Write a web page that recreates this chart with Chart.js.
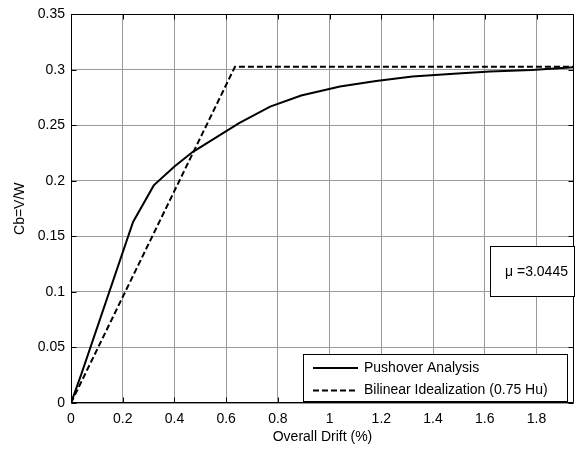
<!DOCTYPE html>
<html><head><meta charset="utf-8">
<script src="https://cdn.jsdelivr.net/npm/chart.js@4"></script>
<style>html,body{margin:0;padding:0;background:#fff}canvas{display:block}</style>
</head><body>
<canvas id="c" width="579" height="451"></canvas>
<script>
// ---- data ----
const pushoverDrift = [0, 0.04, 0.24, 0.32, 0.40, 0.47, 0.56, 0.65, 0.77, 0.89, 1.04, 1.18, 1.32, 1.48, 1.62, 1.78, 1.945];
const pushoverCb    = [0, 0.026, 0.163, 0.196, 0.213, 0.226, 0.239, 0.252, 0.267, 0.277, 0.285, 0.290, 0.294, 0.2965, 0.2985, 0.300, 0.3025];
const bilinearDrift = [0, 0.634, 1.945];
const bilinearCb    = [0, 0.3028, 0.3028];
const xTicks = [0, 0.2, 0.4, 0.6, 0.8, 1.0, 1.2, 1.4, 1.6, 1.8];
const yTicks = [0, 0.05, 0.1, 0.15, 0.2, 0.25, 0.3, 0.35];
const xRange = [0, 1.945];
const yRange = [0, 0.35];
const seriesLabels = ['Pushover Analysis', 'Bilinear Idealization (0.75 Hu)'];
const xTitle = 'Overall Drift (%)';
const yTitle = 'Cb=V/W';
const annotationText = '\u03bc =3.0445';

const FONT = 'Liberation Sans, Arial, sans-serif';
const toPts = (xs, ys) => xs.map((x, i) => ({x, y: ys[i]}));
const fmt = v => String(+(+v).toFixed(2));

const frame = {
  id: 'frame',
  afterDatasetsDraw(chart) {
    const ctx = chart.ctx, a = chart.chartArea;
    const xs = chart.scales.x, ys = chart.scales.y;
    ctx.save();
    ctx.strokeStyle = '#000';
    ctx.lineWidth = 1;
    const L = Math.round(a.left) + 0.5, R = Math.round(a.right) - 0.5;
    const T = Math.round(a.top) + 0.5, B = Math.round(a.bottom) - 0.5;
    // inward ticks
    ctx.beginPath();
    const tl = 5;
    xTicks.forEach(v => {
      const px = Math.round(xs.getPixelForValue(v)) + 0.5;
      ctx.moveTo(px, B); ctx.lineTo(px, B - tl);
      ctx.moveTo(px, T); ctx.lineTo(px, T + tl);
    });
    yTicks.forEach(v => {
      const py = Math.round(ys.getPixelForValue(v)) + 0.5;
      ctx.moveTo(L, py); ctx.lineTo(L + tl, py);
      ctx.moveTo(R, py); ctx.lineTo(R - tl, py);
    });
    ctx.stroke();
    // border
    ctx.beginPath();
    ctx.rect(L, T, R - L, B - T);
    ctx.stroke();

    // mu annotation box
    ctx.font = '14px ' + FONT;
    const bx = a.right - 84, by = a.top + 232;
    ctx.fillStyle = '#fff';
    ctx.fillRect(bx, by, 84, 50);
    ctx.strokeRect(Math.round(bx) + 0.5, Math.round(by) + 0.5, 84, 50);
    ctx.fillStyle = '#000';
    ctx.textBaseline = 'middle';
    ctx.textAlign = 'left';
    ctx.fillText(annotationText, bx + 15, by + 26);

    // legend
    const lx = a.left + 232, ly = a.top + 340, lw = 264, lh = 47;
    ctx.fillStyle = '#fff';
    ctx.fillRect(lx, ly, lw, lh);
    ctx.strokeRect(Math.round(lx) + 0.5, Math.round(ly) + 0.5, lw, lh);
    chart.data.datasets.forEach((ds, i) => {
      const yy = ly + 13.5 + i * 22.5;
      ctx.beginPath();
      ctx.lineWidth = 2;
      ctx.setLineDash(ds.borderDash || []);
      ctx.moveTo(lx + 10, yy); ctx.lineTo(lx + 55, yy);
      ctx.stroke();
      ctx.setLineDash([]);
      ctx.fillStyle = '#000';
      ctx.fillText(ds.label, lx + 61, yy);
    });
    ctx.restore();
  }
};

new Chart(document.getElementById('c'), {
  type: 'scatter',
  data: {
    datasets: [
      { label: seriesLabels[0], data: toPts(pushoverDrift, pushoverCb), showLine: true,
        borderColor: '#000', borderWidth: 2, pointRadius: 0, tension: 0, fill: false },
      { label: seriesLabels[1], data: toPts(bilinearDrift, bilinearCb), showLine: true,
        borderColor: '#000', borderWidth: 2, borderDash: [6, 3], pointRadius: 0, tension: 0, fill: false }
    ]
  },
  options: {
    responsive: false,
    animation: false,
    devicePixelRatio: 1,
    layout: { padding: { left: 0, right: 5, top: 9, bottom: 0 } },
    plugins: { legend: { display: false }, tooltip: { enabled: false } },
    scales: {
      x: {
        type: 'linear', min: xRange[0], max: xRange[1],
        afterBuildTicks: s => { s.ticks = xTicks.map(v => ({value: v})); },
        afterFit: s => { s.height = 48; },
        ticks: { callback: fmt, color: '#000', font: { family: FONT, size: 14 }, padding: 8, maxRotation: 0, autoSkip: false },
        grid: { color: '#9a9a9a', lineWidth: 1, drawTicks: false },
        border: { display: false },
        title: { display: true, text: xTitle, color: '#000', font: { family: FONT, size: 14 }, padding: { top: 0, bottom: 5 } }
      },
      y: {
        type: 'linear', min: yRange[0], max: yRange[1],
        afterBuildTicks: s => { s.ticks = yTicks.map(v => ({value: v})); },
        afterFit: s => { s.width = 71; },
        ticks: { callback: fmt, color: '#000', font: { family: FONT, size: 14 }, padding: 6, autoSkip: false },
        grid: { color: '#9a9a9a', lineWidth: 1, drawTicks: false },
        border: { display: false },
        title: { display: true, text: yTitle, color: '#000', font: { family: FONT, size: 14 }, padding: { top: 12, bottom: 0 } }
      }
    }
  },
  plugins: [frame]
});
</script>
</body></html>
